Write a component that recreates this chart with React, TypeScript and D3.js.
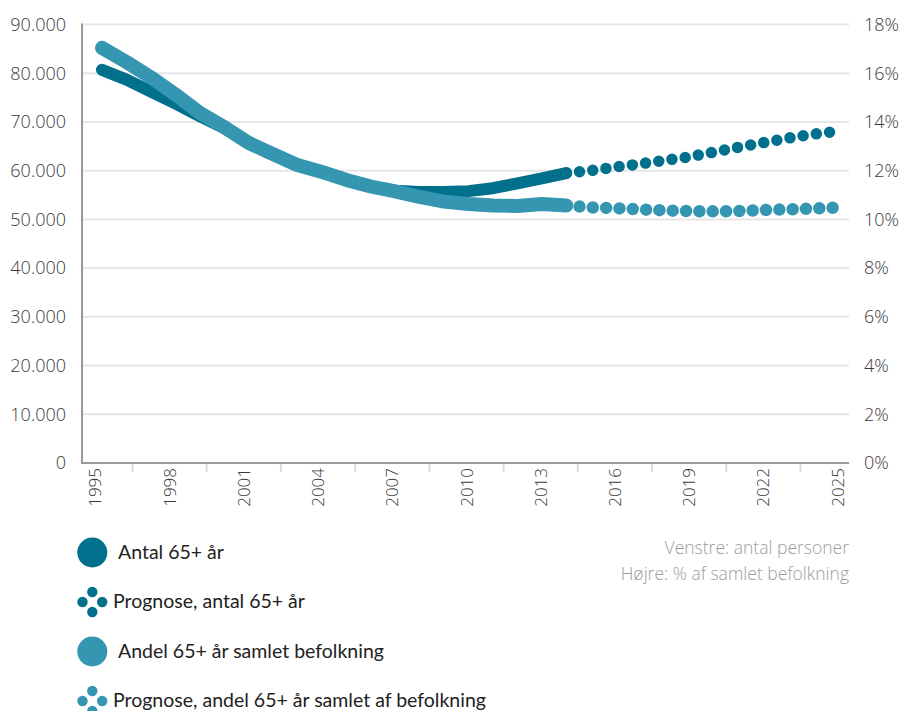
import React from "react";
import * as d3 from "d3";

// ---- Data ----
const years: number[] = d3.range(1995, 2026);
const histYears: number[] = d3.range(1995, 2015);
const progYears: number[] = d3.range(2014, 2026);

const antal: number[] = [80700, 78700, 76250, 73800, 71200, 68760, 65900, 63400, 61200, 59800, 58100, 56800, 55900, 55600, 55600, 55800, 56400, 57400, 58400, 59500];
const antalProg: number[] = [59500, 60000, 60750, 61370, 62090, 62800, 63770, 64760, 65680, 66600, 67430, 68000];
const andel: number[] = [17.04, 16.46, 15.83, 15.13, 14.37, 13.79, 13.14, 12.68, 12.23, 11.95, 11.62, 11.35, 11.15, 10.92, 10.73, 10.63, 10.57, 10.55, 10.63, 10.57];
const andelProg: number[] = [10.57, 10.49, 10.46, 10.41, 10.37, 10.34, 10.33, 10.34, 10.38, 10.41, 10.44, 10.48];

const leftTicks: number[] = [0, 10000, 20000, 30000, 40000, 50000, 60000, 70000, 80000, 90000];
const rightTicks: number[] = [0, 2, 4, 6, 8, 10, 12, 14, 16, 18];
const labelYears: number[] = [1995, 1998, 2001, 2004, 2007, 2010, 2013, 2016, 2019, 2022, 2025];

const legendItems = [
  { label: "Antal 65+ år", kind: "solid", color: "dark" },
  { label: "Prognose, antal 65+ år", kind: "dots", color: "dark" },
  { label: "Andel 65+ år samlet befolkning", kind: "solid", color: "light" },
  { label: "Prognose, andel 65+ år samlet af befolkning", kind: "dots", color: "light" },
];
const notes: string[] = ["Venstre: antal personer", "Højre: % af samlet befolkning"];

const DARK = "#00708d";
const LIGHT = "#3596b1";
const AXFONT = "'Open Sans', Lato, 'DejaVu Sans', sans-serif";
const LEGFONT = "Lato, 'Open Sans', 'DejaVu Sans', sans-serif";

export default function App() {
  const W = 904, H = 711;
  const left = 82, right = 849, top = 24.5, bottom = 463;

  const yL = d3.scaleLinear().domain([0, 90000]).range([bottom, top]);
  const yR = d3.scaleLinear().domain([0, 18]).range([bottom, top]);
  const xD = d3.scaleLinear().domain([1995, 2025]).range([102, 835]);
  const xA = d3.scaleBand<string>().domain(years.map(String)).range([83, 850]);

  const fmt = (v: number) => (v === 0 ? "0" : d3.format(",")(v).replace(/,/g, "."));

  const lineL = d3.line<[number, number]>().x(d => xD(d[0])).y(d => yL(d[1]));
  const lineR = d3.line<[number, number]>().x(d => xD(d[0])).y(d => yR(d[1]));

  const darkHist = lineL(histYears.map((y, i) => [y, antal[i]] as [number, number])) || "";
  const darkProg = lineL(progYears.map((y, i) => [y, antalProg[i]] as [number, number])) || "";
  const lightHist = lineR(histYears.map((y, i) => [y, andel[i]] as [number, number])) || "";
  const lightProg = lineR(progYears.map((y, i) => [y, andelProg[i]] as [number, number])) || "";

  const tickIdx = years.map((_, i) => i).filter(i => i % 3 === 2);

  return (
    <svg width={W} height={H} style={{ position: "absolute", left: 0, top: 0, display: "block" }} fontFamily={AXFONT}>
      <rect width={W} height={H} fill="#fff" />
      {/* gridlines */}
      {leftTicks.filter(t => t > 0).map(t => (
        <line key={t} x1={left} x2={right} y1={yL(t)} y2={yL(t)} stroke="#e6e6e6" strokeWidth={2} />
      ))}
      {/* axes */}
      <line x1={left} x2={left} y1={top - 1} y2={bottom + 1} stroke="#9a9a9c" strokeWidth={2} />
      <line x1={left - 1} x2={right} y1={bottom} y2={bottom} stroke="#9a9a9c" strokeWidth={2} />
      {tickIdx.map(i => (
        <line key={i} x1={xA(String(years[i]))!} x2={xA(String(years[i]))!} y1={bottom + 1} y2={bottom + 9} stroke="#dcdcdc" strokeWidth={2} />
      ))}
      {/* left labels */}
      {leftTicks.map(t => (
        <text key={t} x={66} y={yL(t)} dy="0.35em" textAnchor="end" fontSize={18} fontWeight={300} fill="#3a3a3a">{fmt(t)}</text>
      ))}
      {/* right labels */}
      {rightTicks.map(t => (
        <text key={t} x={864} y={yR(t)} dy="0.35em" textAnchor="start" fontSize={18} fontWeight={300} fill="#3a3a3a">{t}%</text>
      ))}
      {/* x labels */}
      {labelYears.map(y => {
        const cx = xA(String(y))! + xA.bandwidth() / 2;
        return (
          <text key={y} transform={`translate(${cx + 6},${bottom + 5}) rotate(-90)`} textAnchor="end" fontSize={17} fontWeight={300} fill="#3a3a3a">{y}</text>
        );
      })}
      {/* lines */}
      <path d={darkHist} fill="none" stroke={DARK} strokeWidth={12} strokeLinecap="round" strokeLinejoin="round" />
      <path d={darkProg} fill="none" stroke={DARK} strokeWidth={11.5} strokeLinecap="round" strokeDasharray="0 13.33" />
      <path d={lightHist} fill="none" stroke={LIGHT} strokeWidth={14} strokeLinecap="round" strokeLinejoin="round" />
      <path d={lightProg} fill="none" stroke={LIGHT} strokeWidth={12.5} strokeLinecap="round" strokeDasharray="0 13.33" />
      {/* notes */}
      {notes.map((n, i) => (
        <text key={n} x={849} y={548 + i * 26} dy="0.35em" textAnchor="end" fontSize={17.5} fontWeight={300} fill="#9d9d9d">{n}</text>
      ))}
      {/* legend */}
      {legendItems.map((it, i) => {
        const cy = 552.5 + i * 49.5;
        const col = it.color === "dark" ? DARK : LIGHT;
        return (
          <g key={it.label}>
            {it.kind === "solid" ? (
              <circle cx={92.3} cy={cy} r={15} fill={col} />
            ) : (
              <g>
                <circle cx={92.3} cy={cy - 10} r={5.2} fill={col} />
                <circle cx={82.5} cy={cy} r={5.2} fill={col} />
                <circle cx={102.2} cy={cy} r={5.2} fill={col} />
                <circle cx={92.3} cy={cy + 10} r={5.2} fill={col} />
              </g>
            )}
            <text x={it.kind === "solid" ? 118 : 113} y={cy} dy="0.33em" fontFamily={LEGFONT} fontSize={19.5} fill="#222">{it.label}</text>
          </g>
        );
      })}
    </svg>
  );
}
